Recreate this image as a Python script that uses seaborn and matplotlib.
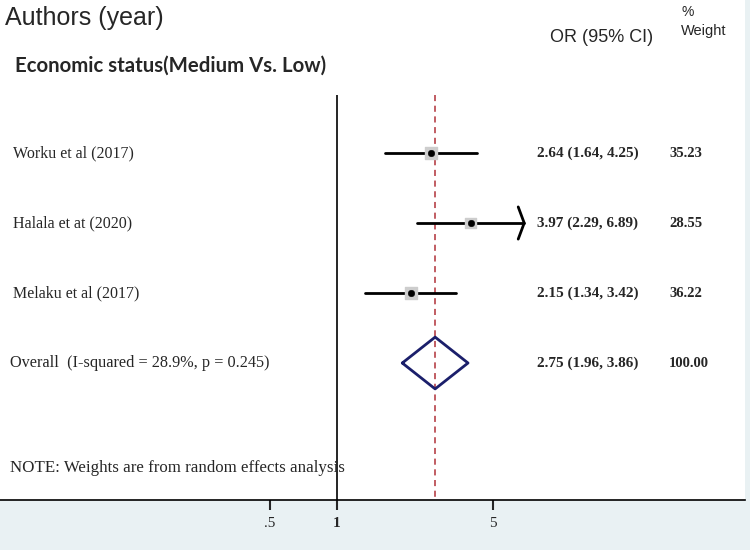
import numpy as np
import pandas as pd
import matplotlib.pyplot as plt
import seaborn as sns

# Data
studies = ["Worku et al (2017)", "Halala et at (2020)", "Melaku et al (2017)"]
or_est = [2.64, 3.97, 2.15]
ci_low = [1.64, 2.29, 1.34]
ci_high = [4.25, 6.89, 3.42]
weights = [35.23, 28.55, 36.22]
overall_label = "Overall  (I-squared = 28.9%, p = 0.245)"
overall_est, overall_low, overall_high = 2.75, 1.96, 3.86
overall_weight = 100.00
tick_vals = [0.5, 1, 5]
tick_labels = [".5", "1", "5"]

sns.set_style("white")
sans = "Liberation Sans"
serif = "Liberation Serif"

fig = plt.figure(figsize=(7.5, 5.5), dpi=100)
fig.patch.set_facecolor("#e9f1f3")
ax = fig.add_axes([0, 50 / 550, 745 / 750, 500 / 550])
ax.set_facecolor("white")

rows = np.arange(1, len(studies) + 1)
df = pd.DataFrame({"study": studies, "or": or_est, "lo": ci_low, "hi": ci_high,
                   "w": weights, "y": rows})
oy = len(studies) + 1
y_top, y_bottom = 0.17, 5.957

# reference lines
ax.vlines(1, y_top, y_bottom, color="black", lw=1.2, zorder=1)
ax.vlines(overall_est, y_top, y_bottom, color="#b03038", lw=1.1,
          linestyles=[(0, (4, 3))], zorder=1)

# CI lines (arrow if upper bound truncated)
for _, r in df.iterrows():
    ax.plot([r["lo"], r["hi"]], [r["y"], r["y"]], color="black", lw=2, zorder=2)
    if r["study"].startswith("Halala"):
        ax.plot([r["hi"] * 0.94, r["hi"], r["hi"] * 0.94],
                [r["y"] - 0.23, r["y"], r["y"] + 0.23], color="black", lw=2, zorder=2)

# weight boxes and point estimates
ax.scatter(df["or"], df["y"], marker="s", s=df["w"] * 2.0, color="#cdcdcd", zorder=3)
sns.scatterplot(data=df, x="or", y="y", ax=ax, color="black", s=22, zorder=4,
                edgecolor="black", legend=False)

# overall diamond
ax.plot([overall_low, overall_est, overall_high, overall_est, overall_low],
        [oy, oy - 0.37, oy, oy + 0.37, oy], color="#1b1f6b", lw=2, zorder=4)

ax.set_xscale("log")
ax.set_xlim(np.exp(-337 / 97), np.exp(408 / 97))
ax.set_ylim(y_bottom, -1.186)

for s in ["top", "right", "left"]:
    ax.spines[s].set_visible(False)
ax.spines["bottom"].set_color("black")
ax.spines["bottom"].set_linewidth(1.2)
ax.set_xticks(tick_vals)
ax.set_xticklabels(tick_labels, fontfamily=serif, fontsize=11)
ax.get_xticklabels()[1].set_fontweight("bold")
ax.minorticks_off()
ax.tick_params(axis="x", bottom=True, direction="out", length=7, width=1.5, pad=5)
ax.set_yticks([])
ax.set_xlabel("")
ax.set_ylabel("")

trans = ax.get_yaxis_transform()
def px(x):
    return x / 745

for i, r in df.iterrows():
    ax.text(px(13), r["y"], r["study"], transform=trans, va="center", ha="left",
            fontfamily=serif, fontsize=11.5)
    ax.text(px(537), r["y"], f"{r['or']:.2f} ({r['lo']:.2f}, {r['hi']:.2f})",
            transform=trans, va="center", ha="left", fontfamily=serif,
            fontsize=11, fontweight="bold")
    ax.text(px(669), r["y"], f"{r['w']:.2f}", transform=trans, va="center",
            ha="left", fontfamily=serif, fontsize=10.5, fontweight="bold")

ax.text(px(10), oy, overall_label, transform=trans, va="center", ha="left",
        fontfamily=serif, fontsize=11.7)
ax.text(px(537), oy, f"{overall_est:.2f} ({overall_low:.2f}, {overall_high:.2f})",
        transform=trans, va="center", ha="left", fontfamily=serif,
        fontsize=11, fontweight="bold")
ax.text(px(669), oy, f"{overall_weight:.2f}", transform=trans, va="center",
        ha="left", fontfamily=serif, fontsize=10.5, fontweight="bold")
ax.text(px(10), 5.5, "NOTE: Weights are from random effects analysis", transform=trans,
        va="center", ha="left", fontfamily=serif, fontsize=12.2)

# header
fig.text(5 / 750, 1 - 18 / 550, "Authors (year)", fontfamily=sans, fontsize=18,
         va="center", ha="left")
fig.text(550 / 750, 1 - 37 / 550, "OR (95% CI)", fontfamily=sans, fontsize=13,
         va="center", ha="left")
fig.text(681 / 750, 1 - 12 / 550, "%", fontfamily=sans, fontsize=10,
         va="center", ha="left")
fig.text(681 / 750, 1 - 31 / 550, "Weight", fontfamily=sans, fontsize=10.5,
         va="center", ha="left")
fig.text(15 / 750, 1 - 66 / 550, "Economic status(Medium Vs. Low)", fontfamily="Lato",
         fontsize=14.7, fontweight="bold", va="center", ha="left")

fig.savefig("out.png", dpi=100, facecolor=fig.get_facecolor())
